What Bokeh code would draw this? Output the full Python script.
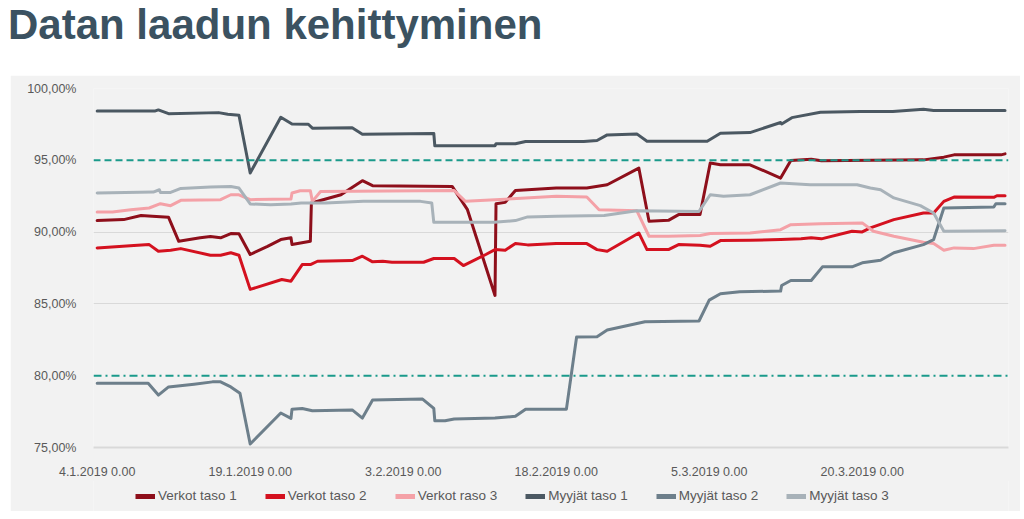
from bokeh.plotting import figure
from bokeh.models import (Div, Legend, LegendItem, FixedTicker, Range1d, Span)
from bokeh.layouts import column
from bokeh.embed import file_html
from bokeh.resources import INLINE

# ---------------- data (x = days since 4.1.2019, y = percent) ----------------
tick_days = [0, 15, 30, 45, 60, 75]
tick_labels = ["4.1.2019 0.00", "19.1.2019 0.00", "3.2.2019 0.00",
               "18.2.2019 0.00", "5.3.2019 0.00", "20.3.2019 0.00"]
y_ticks = [75, 80, 85, 90, 95, 100]
y_labels = ["75,00%", "80,00%", "85,00%", "90,00%", "95,00%", "100,00%"]

target_high = 95
target_low = 80

verkot1_x = [0, 2.6, 4.3, 5.4, 7, 8, 10.1, 11.1, 12.1, 13.1, 13.9, 15, 16.7, 18, 19, 19.1,
             20.9, 21, 23.9, 26, 27, 34.8, 36.3, 39, 39.1, 40, 41, 45, 48, 50, 53.1, 54.1,
             56, 57, 59.1, 60.1, 61.1, 64, 67, 68, 70, 71, 81, 83, 84, 88.6, 89]
verkot1_y = [90.80, 90.87, 91.15, 91.10, 91.03, 89.36, 89.60, 89.69, 89.60, 89.90, 89.88,
             88.44, 89.01, 89.48, 89.60, 89.13, 89.36, 92.03, 92.60, 93.58, 93.23, 93.18,
             91.56, 85.59, 91.98, 92.07, 92.90, 93.07, 93.07, 93.30, 94.46, 90.75, 90.82,
             91.22, 91.22, 94.81, 94.69, 94.69, 93.76, 94.99, 95.08, 94.97, 95.03, 95.22,
             95.38, 95.38, 95.45]

verkot2_x = [0, 3.6, 5.1, 6, 7.2, 8.2, 11.1, 12.1, 13.1, 13.9, 15, 18.1, 19, 20.1, 20.9,
             21.6, 25, 26, 27, 28, 28.9, 32, 33, 35, 35.9, 38.1, 39, 40, 41, 42.2, 45, 48,
             49, 50, 53.1, 53.9, 56, 57, 59.1, 60.1, 61.1, 64, 67, 69, 70, 71, 74, 75,
             75.8, 78.1, 81, 82, 83, 84, 87.9, 88.2, 89]
verkot2_y = [88.90, 89.06, 89.13, 88.67, 88.74, 88.85, 88.39, 88.39, 88.56, 88.39, 86.01,
             86.70, 86.58, 87.74, 87.74, 87.97, 88.02, 88.32, 87.93, 87.97, 87.90, 87.90,
             88.16, 88.16, 87.67, 88.44, 88.78, 88.74, 89.20, 89.11, 89.20, 89.20, 88.78,
             88.67, 89.94, 88.78, 88.78, 89.13, 89.08, 89.01, 89.41, 89.43, 89.48, 89.53,
             89.60, 89.53, 90.06, 90.01, 90.29, 90.87, 91.33, 91.33, 92.14, 92.44, 92.42,
             92.53, 92.53]

verkot3_x = [0, 1.5, 3.3, 5.1, 6.2, 7.2, 8.2, 12.1, 13.1, 13.9, 15, 19, 19.1, 19.9, 20.9,
             21.1, 21.9, 35, 36.1, 45, 48, 49.2, 52.9, 54.1, 56, 59.1, 60.1, 64, 67, 68,
             70.9, 75, 76.1, 78.1, 81, 82, 83, 84, 85.9, 87.9, 89]
verkot3_y = [91.40, 91.40, 91.56, 91.68, 91.98, 91.84, 92.21, 92.26, 92.60, 92.60, 92.26,
             92.31, 92.72, 92.88, 92.88, 92.14, 92.83, 92.90, 92.14, 92.49, 92.44, 91.56,
             91.49, 89.71, 89.71, 89.76, 89.90, 89.94, 90.17, 90.52, 90.59, 90.64, 90.06,
             89.71, 89.29, 89.20, 88.74, 88.90, 88.85, 89.08, 89.08]

myyjat1_x = [0, 5.7, 6, 7, 11.9, 12.8, 13.9, 15, 18, 19.1, 20.7, 21.1, 25, 26, 33, 33.1,
             39, 39.1, 41, 42, 47.7, 49, 50, 52.9, 53.9, 59.8, 61.1, 64, 67, 67.1, 68.1,
             70.9, 74.8, 78, 81, 82, 89]
myyjat1_y = [98.44, 98.44, 98.51, 98.25, 98.32, 98.21, 98.14, 94.11, 98.00, 97.53, 97.51,
             97.24, 97.26, 96.82, 96.87, 96.01, 96.01, 96.15, 96.15, 96.31, 96.31, 96.38,
             96.77, 96.84, 96.33, 96.33, 96.89, 96.93, 97.63, 97.53, 97.97, 98.35, 98.39,
             98.39, 98.56, 98.47, 98.47]

myyjat2_x = [0, 5, 6, 7, 9.5, 11.3, 12.1, 13.1, 14, 15, 18, 19, 19.1, 20.1, 21.1, 25, 26,
             27, 31.9, 33, 33.1, 34.1, 35, 39, 41, 42, 46, 47, 49, 50, 53.7, 59, 60, 61.1,
             63, 67, 67.1, 68, 70, 71.1, 74, 75, 76.8, 78.1, 81, 82, 83, 87.9, 88.1, 89]
myyjat2_y = [79.48, 79.48, 78.65, 79.22, 79.41, 79.57, 79.57, 79.22, 78.78, 75.24, 77.40,
             77.03, 77.67, 77.72, 77.56, 77.62, 77.05, 78.30, 78.37, 77.72, 76.86, 76.86,
             76.98, 77.05, 77.17, 77.67, 77.67, 82.69, 82.72, 83.18, 83.76, 83.81, 85.26,
             85.71, 85.85, 85.89, 86.28, 86.63, 86.63, 87.58, 87.58, 87.86, 88.04, 88.56,
             89.13, 89.48, 91.68, 91.75, 91.98, 91.98]

myyjat3_x = [0, 5.5, 6.1, 6.2, 7.2, 8.2, 11.1, 13.1, 13.9, 15, 17, 19, 20, 22.4, 26.1,
             31.7, 32.8, 33, 38.9, 41, 42.2, 45, 49.7, 52.9, 59, 60.1, 61.4, 64, 67, 69.9,
             74.5, 75.8, 76.8, 78.1, 80.7, 82, 83, 89]
myyjat3_y = [92.72, 92.79, 92.95, 92.76, 92.76, 93.04, 93.14, 93.18, 93.07, 91.96, 91.91,
             91.96, 92.03, 92.03, 92.14, 92.14, 92.03, 90.68, 90.68, 90.80, 91.06, 91.10,
             91.15, 91.49, 91.44, 92.60, 92.49, 92.60, 93.42, 93.30, 93.30, 93.07, 92.95,
             92.38, 91.84, 91.33, 90.06, 90.10]

series_names = ["Verkot taso 1", "Verkot taso 2", "Verkot raso 3",
                "Myyjät taso 1", "Myyjät taso 2", "Myyjät taso 3"]
series_x = [verkot1_x, verkot2_x, verkot3_x, myyjat1_x, myyjat2_x, myyjat3_x]
series_y = [verkot1_y, verkot2_y, verkot3_y, myyjat1_y, myyjat2_y, myyjat3_y]
series_colors = ["#8e0f1b", "#d4111f", "#f4a1a7", "#4b5862", "#6d7f8b", "#a8b2b9"]

FONT = "Liberation Sans"
TEXT_COLOR = "#595959"
PANEL = "#f2f2f2"

title = Div(
    text='<div style="position:relative; top:2px; left:8px; font-family:\'Liberation Sans\', Arial, sans-serif; '
         'font-weight:bold; font-size:42px; line-height:46px; color:#3b5261; white-space:nowrap;">'
         'Datan laadun kehittyminen</div>',
    width=1010, height=75, margin=0)

# ---------------- main chart ----------------
p = figure(width=1010, height=406, output_backend="svg", toolbar_location=None,
           x_range=Range1d(-0.36, 89.34), y_range=Range1d(75, 100),
           min_border_left=83, min_border_right=12, min_border_top=13, min_border_bottom=34,
           background_fill_color=PANEL, border_fill_color=PANEL, outline_line_color=None,
           margin=(0, 4, 0, 10))

for name, xs, ys, col in zip(series_names, series_x, series_y, series_colors):
    p.line(xs, ys, line_color=col, line_width=3, line_join="round", line_cap="round")

p.add_layout(Span(location=target_high, dimension="width", line_color="#1a9a8b",
                  line_width=2, line_dash="7 4"))
p.add_layout(Span(location=target_low, dimension="width", line_color="#1a9a8b",
                  line_width=2, line_dash="8 4 2 4"))

p.xaxis.ticker = FixedTicker(ticks=tick_days)
p.xaxis.major_label_overrides = {d: l for d, l in zip(tick_days, tick_labels)}
p.yaxis.ticker = FixedTicker(ticks=y_ticks)
p.yaxis.major_label_overrides = {t: l for t, l in zip(y_ticks, y_labels)}
for ax in (p.xaxis, p.yaxis):
    ax.major_tick_line_color = None
    ax.minor_tick_line_color = None
    ax.major_label_text_font = FONT
    ax.major_label_text_font_size = "12.5px"
    ax.major_label_text_color = TEXT_COLOR
    ax.major_label_standoff = 11
p.yaxis.axis_line_color = None
p.xaxis.axis_line_color = "#d9d9d9"
p.xaxis.axis_line_width = 2

p.xgrid.visible = False
p.ygrid.ticker = FixedTicker(ticks=[85, 90])
p.ygrid.grid_line_color = "#d9d9d9"
p.ygrid.grid_line_width = 1

# ---------------- legend strip: same series, plotted out of view, only legend shows ----------------
lf = figure(width=1010, height=31, output_backend="svg", toolbar_location=None,
            x_axis_location=None, y_axis_location=None,
            x_range=Range1d(-0.36, 89.34), y_range=Range1d(0, 1),
            min_border_left=0, min_border_right=0, min_border_top=0, min_border_bottom=0,
            background_fill_color=PANEL, border_fill_color=PANEL, outline_line_color=None,
            margin=(-1, 4, 0, 10))
lf.xgrid.visible = False
lf.ygrid.visible = False
legend_renderers = [lf.line(xs, ys, line_color=col, line_width=5)
                    for xs, ys, col in zip(series_x, series_y, series_colors)]

legend = Legend(items=[LegendItem(label=n, renderers=[r])
                       for n, r in zip(series_names, legend_renderers)],
                orientation="horizontal", location=(38, 4),
                background_fill_alpha=0, border_line_alpha=0,
                label_text_font=FONT, label_text_font_size="13.5px", label_text_color=TEXT_COLOR,
                glyph_width=20, glyph_height=14, spacing=28, label_standoff=3,
                padding=4, margin=0)
lf.add_layout(legend)

layout = column(title, p, lf, spacing=0)
open("out.html", "w").write(file_html(layout, INLINE))
